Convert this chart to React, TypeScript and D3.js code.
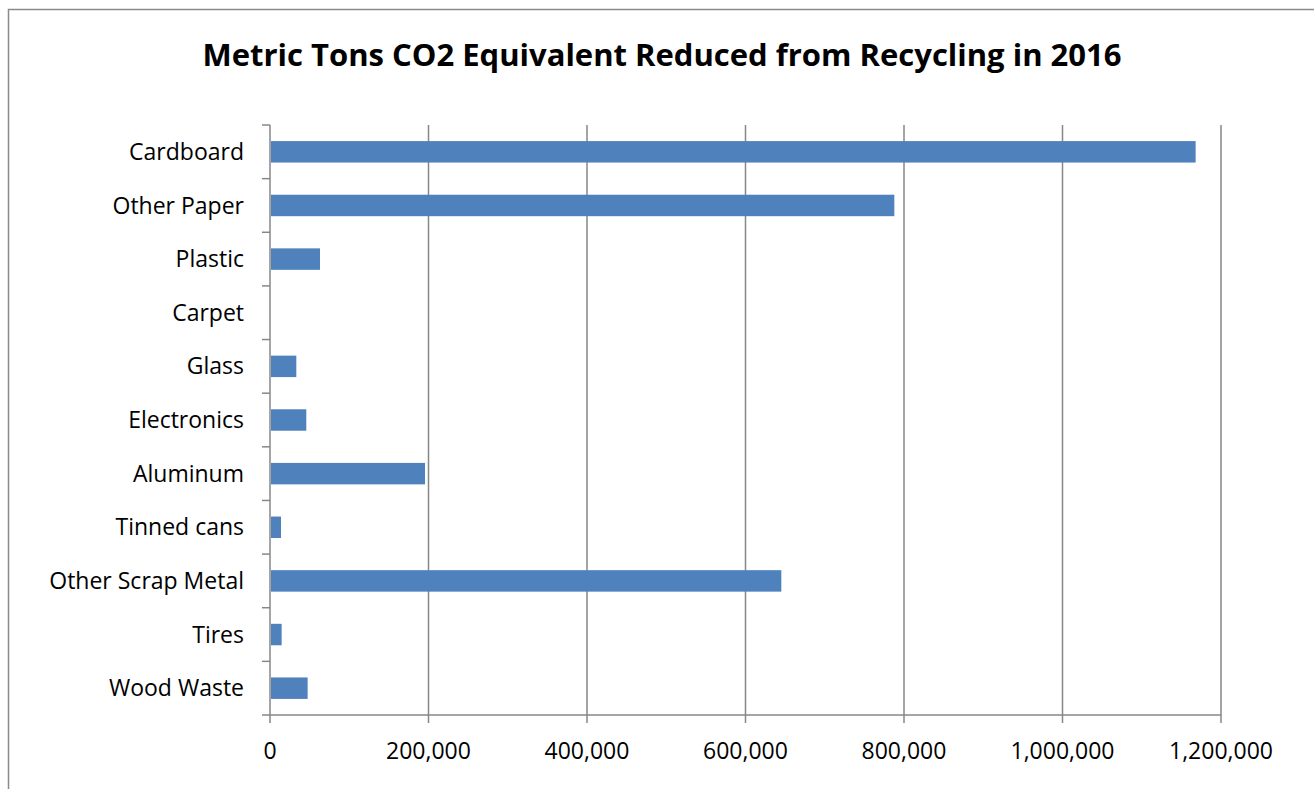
import { useEffect, useRef } from "react";
import * as d3 from "d3";

// 카테고리와 값
const categories = [
  "Cardboard",
  "Other Paper",
  "Plastic",
  "Carpet",
  "Glass",
  "Electronics",
  "Aluminum",
  "Tinned cans",
  "Other Scrap Metal",
  "Tires",
  "Wood Waste",
];
const tonsReduced = [
  1168000, 787800, 63100, 0, 33200, 45800, 195600, 13900, 645200, 14700, 47500,
];
const xTicks = [0, 200000, 400000, 600000, 800000, 1000000, 1200000];
const title = "Metric Tons CO2 Equivalent Reduced from Recycling in 2016";

const App = () => {
  const svgRef = useRef<SVGSVGElement>(null);

  useEffect(() => {
    if (!svgRef.current) return;
    const svg = d3.select(svgRef.current);
    svg.selectAll("*").remove();

    const width = 1314;
    const height = 789;
    const margin = { top: 125, right: 93, bottom: 74, left: 270 };
    const innerWidth = width - margin.left - margin.right;
    const innerHeight = height - margin.top - margin.bottom;
    const font = "'Open Sans', sans-serif";
    const gridColor = "#878787";

    svg.attr("width", width).attr("height", height);

    // 바깥 테두리
    svg
      .append("rect")
      .attr("x", 8.5)
      .attr("y", 9.5)
      .attr("width", width)
      .attr("height", height)
      .attr("fill", "white")
      .attr("stroke", "#8a8a8a")
      .attr("stroke-width", 1.5);

    // 제목
    svg
      .append("text")
      .attr("x", 662)
      .attr("y", 66)
      .attr("text-anchor", "middle")
      .style("font-family", font)
      .style("font-weight", "bold")
      .style("font-size", "31px")
      .attr("fill", "#000")
      .text(title);

    const g = svg
      .append("g")
      .attr("transform", `translate(${margin.left}, ${margin.top})`);

    const xScale = d3.scaleLinear().domain([0, 1200000]).range([0, innerWidth]);
    const yScale = d3
      .scaleBand()
      .domain(categories)
      .range([0, innerHeight])
      .paddingInner(0.6)
      .paddingOuter(0.3);
    const band = innerHeight / categories.length;

    // 세로 격자선
    g.selectAll(".grid")
      .data(xTicks.slice(1))
      .enter()
      .append("line")
      .attr("x1", (d) => xScale(d))
      .attr("x2", (d) => xScale(d))
      .attr("y1", 0)
      .attr("y2", innerHeight + 8)
      .attr("stroke", gridColor)
      .attr("stroke-width", 1.5);

    // 막대
    g.selectAll(".bar")
      .data(categories)
      .enter()
      .append("rect")
      .attr("x", xScale(0) + 1)
      .attr("y", (d) => yScale(d)!)
      .attr("width", (d, i) => Math.max(0, xScale(tonsReduced[i]) - 1))
      .attr("height", yScale.bandwidth())
      .attr("fill", "#4f81bd");

    // y축 선과 눈금
    g.append("line")
      .attr("x1", 0)
      .attr("x2", 0)
      .attr("y1", 0)
      .attr("y2", innerHeight + 8)
      .attr("stroke", gridColor)
      .attr("stroke-width", 1.5);
    g.selectAll(".ytick")
      .data(d3.range(categories.length + 1))
      .enter()
      .append("line")
      .attr("x1", -8)
      .attr("x2", 0)
      .attr("y1", (d) => d * band)
      .attr("y2", (d) => d * band)
      .attr("stroke", gridColor)
      .attr("stroke-width", 1.5);

    // x축 선
    g.append("line")
      .attr("x1", 0)
      .attr("x2", innerWidth)
      .attr("y1", innerHeight)
      .attr("y2", innerHeight)
      .attr("stroke", gridColor)
      .attr("stroke-width", 1.5);

    // y축 라벨
    g.selectAll(".ylabel")
      .data(categories)
      .enter()
      .append("text")
      .attr("x", -26)
      .attr("y", (d) => yScale(d)! + yScale.bandwidth() / 2)
      .attr("dy", "0.35em")
      .attr("text-anchor", "end")
      .style("font-family", font)
      .style("font-size", "23px")
      .attr("fill", "#000")
      .text((d) => d);

    // x축 라벨
    g.selectAll(".xlabel")
      .data(xTicks)
      .enter()
      .append("text")
      .attr("x", (d) => xScale(d))
      .attr("y", innerHeight + 44)
      .attr("text-anchor", "middle")
      .style("font-family", font)
      .style("font-size", "23px")
      .attr("fill", "#000")
      .text((d) => d3.format(",")(d));
  }, []);

  return (
    <svg
      ref={svgRef}
      style={{ position: "absolute", left: 0, top: 0, display: "block" }}
    ></svg>
  );
};

export default App;
